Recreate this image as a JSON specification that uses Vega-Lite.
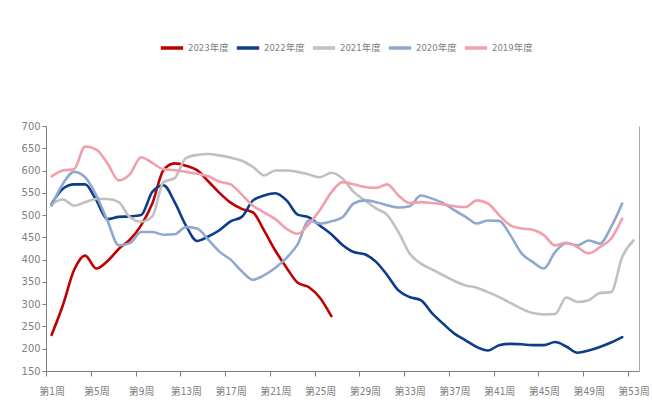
{
  "$schema": "https://vega.github.io/schema/vega-lite/v6.json",
  "width": 593,
  "height": 245,
  "autosize": {"type": "none"},
  "padding": {"left": 46, "top": 126, "right": 13, "bottom": 49},
  "background": "white",
  "config": {
    "view": {"stroke": null},
    "font": "DejaVu Sans Condensed, Liberation Sans Narrow, Noto Sans CJK SC",
    "axis": {"labelFont": "DejaVu Sans Condensed, Liberation Sans Narrow, Noto Sans CJK SC"},
    "legend": {"labelFont": "DejaVu Sans Condensed, Liberation Sans Narrow, Noto Sans CJK SC"}
  },
  "datasets": {
    "weekly": [
      {"year": "2023年度", "week": 1, "v": 231}, {"year": "2023年度", "week": 2, "v": 297}, {"year": "2023年度", "week": 3, "v": 376},
      {"year": "2023年度", "week": 4, "v": 409}, {"year": "2023年度", "week": 5, "v": 380}, {"year": "2023年度", "week": 6, "v": 397},
      {"year": "2023年度", "week": 7, "v": 424}, {"year": "2023年度", "week": 8, "v": 445}, {"year": "2023年度", "week": 9, "v": 477},
      {"year": "2023年度", "week": 10, "v": 526}, {"year": "2023年度", "week": 11, "v": 601}, {"year": "2023年度", "week": 12, "v": 616},
      {"year": "2023年度", "week": 13, "v": 611}, {"year": "2023年度", "week": 14, "v": 601}, {"year": "2023年度", "week": 15, "v": 576},
      {"year": "2023年度", "week": 16, "v": 550}, {"year": "2023年度", "week": 17, "v": 528}, {"year": "2023年度", "week": 18, "v": 514},
      {"year": "2023年度", "week": 19, "v": 506}, {"year": "2023年度", "week": 20, "v": 465}, {"year": "2023年度", "week": 21, "v": 420},
      {"year": "2023年度", "week": 22, "v": 382}, {"year": "2023年度", "week": 23, "v": 348}, {"year": "2023年度", "week": 24, "v": 338},
      {"year": "2023年度", "week": 25, "v": 314}, {"year": "2023年度", "week": 26, "v": 273},

      {"year": "2022年度", "week": 1, "v": 525}, {"year": "2022年度", "week": 2, "v": 559}, {"year": "2022年度", "week": 3, "v": 569},
      {"year": "2022年度", "week": 4, "v": 569}, {"year": "2022年度", "week": 5, "v": 533}, {"year": "2022年度", "week": 6, "v": 491},
      {"year": "2022年度", "week": 7, "v": 496}, {"year": "2022年度", "week": 8, "v": 497}, {"year": "2022年度", "week": 9, "v": 500},
      {"year": "2022年度", "week": 10, "v": 552}, {"year": "2022年度", "week": 11, "v": 567}, {"year": "2022年度", "week": 12, "v": 529},
      {"year": "2022年度", "week": 13, "v": 477}, {"year": "2022年度", "week": 14, "v": 442}, {"year": "2022年度", "week": 15, "v": 452},
      {"year": "2022年度", "week": 16, "v": 466}, {"year": "2022年度", "week": 17, "v": 486}, {"year": "2022年度", "week": 18, "v": 496},
      {"year": "2022年度", "week": 19, "v": 533}, {"year": "2022年度", "week": 20, "v": 544}, {"year": "2022年度", "week": 21, "v": 549},
      {"year": "2022年度", "week": 22, "v": 533}, {"year": "2022年度", "week": 23, "v": 501}, {"year": "2022年度", "week": 24, "v": 495},
      {"year": "2022年度", "week": 25, "v": 476}, {"year": "2022年度", "week": 26, "v": 457}, {"year": "2022年度", "week": 27, "v": 433},
      {"year": "2022年度", "week": 28, "v": 417}, {"year": "2022年度", "week": 29, "v": 412}, {"year": "2022年度", "week": 30, "v": 395},
      {"year": "2022年度", "week": 31, "v": 365}, {"year": "2022年度", "week": 32, "v": 331}, {"year": "2022年度", "week": 33, "v": 316},
      {"year": "2022年度", "week": 34, "v": 309}, {"year": "2022年度", "week": 35, "v": 280}, {"year": "2022年度", "week": 36, "v": 256},
      {"year": "2022年度", "week": 37, "v": 234}, {"year": "2022年度", "week": 38, "v": 219}, {"year": "2022年度", "week": 39, "v": 204},
      {"year": "2022年度", "week": 40, "v": 196}, {"year": "2022年度", "week": 41, "v": 208}, {"year": "2022年度", "week": 42, "v": 211},
      {"year": "2022年度", "week": 43, "v": 210}, {"year": "2022年度", "week": 44, "v": 208}, {"year": "2022年度", "week": 45, "v": 208},
      {"year": "2022年度", "week": 46, "v": 215}, {"year": "2022年度", "week": 47, "v": 205}, {"year": "2022年度", "week": 48, "v": 191},
      {"year": "2022年度", "week": 49, "v": 196}, {"year": "2022年度", "week": 50, "v": 204}, {"year": "2022年度", "week": 51, "v": 214},
      {"year": "2022年度", "week": 52, "v": 226},

      {"year": "2021年度", "week": 1, "v": 525}, {"year": "2021年度", "week": 2, "v": 535}, {"year": "2021年度", "week": 3, "v": 521},
      {"year": "2021年度", "week": 4, "v": 529}, {"year": "2021年度", "week": 5, "v": 536}, {"year": "2021年度", "week": 6, "v": 536},
      {"year": "2021年度", "week": 7, "v": 529}, {"year": "2021年度", "week": 8, "v": 495}, {"year": "2021年度", "week": 9, "v": 485},
      {"year": "2021年度", "week": 10, "v": 497}, {"year": "2021年度", "week": 11, "v": 574}, {"year": "2021年度", "week": 12, "v": 583},
      {"year": "2021年度", "week": 13, "v": 628}, {"year": "2021年度", "week": 14, "v": 635}, {"year": "2021年度", "week": 15, "v": 637},
      {"year": "2021年度", "week": 16, "v": 634}, {"year": "2021年度", "week": 17, "v": 629}, {"year": "2021年度", "week": 18, "v": 622},
      {"year": "2021年度", "week": 19, "v": 608}, {"year": "2021年度", "week": 20, "v": 589}, {"year": "2021年度", "week": 21, "v": 600},
      {"year": "2021年度", "week": 22, "v": 600}, {"year": "2021年度", "week": 23, "v": 597}, {"year": "2021年度", "week": 24, "v": 591},
      {"year": "2021年度", "week": 25, "v": 585}, {"year": "2021年度", "week": 26, "v": 595}, {"year": "2021年度", "week": 27, "v": 582},
      {"year": "2021年度", "week": 28, "v": 552}, {"year": "2021年度", "week": 29, "v": 533}, {"year": "2021年度", "week": 30, "v": 515},
      {"year": "2021年度", "week": 31, "v": 500}, {"year": "2021年度", "week": 32, "v": 462}, {"year": "2021年度", "week": 33, "v": 414},
      {"year": "2021年度", "week": 34, "v": 391}, {"year": "2021年度", "week": 35, "v": 378}, {"year": "2021年度", "week": 36, "v": 365},
      {"year": "2021年度", "week": 37, "v": 352}, {"year": "2021年度", "week": 38, "v": 342}, {"year": "2021年度", "week": 39, "v": 337},
      {"year": "2021年度", "week": 40, "v": 327}, {"year": "2021年度", "week": 41, "v": 316}, {"year": "2021年度", "week": 42, "v": 303},
      {"year": "2021年度", "week": 43, "v": 290}, {"year": "2021年度", "week": 44, "v": 280}, {"year": "2021年度", "week": 45, "v": 277},
      {"year": "2021年度", "week": 46, "v": 278}, {"year": "2021年度", "week": 47, "v": 315}, {"year": "2021年度", "week": 48, "v": 305},
      {"year": "2021年度", "week": 49, "v": 309}, {"year": "2021年度", "week": 50, "v": 325}, {"year": "2021年度", "week": 51, "v": 327},
      {"year": "2021年度", "week": 52, "v": 406}, {"year": "2021年度", "week": 53, "v": 443},

      {"year": "2020年度", "week": 1, "v": 521}, {"year": "2020年度", "week": 2, "v": 570}, {"year": "2020年度", "week": 3, "v": 597},
      {"year": "2020年度", "week": 4, "v": 585}, {"year": "2020年度", "week": 5, "v": 544}, {"year": "2020年度", "week": 6, "v": 487},
      {"year": "2020年度", "week": 7, "v": 432}, {"year": "2020年度", "week": 8, "v": 437}, {"year": "2020年度", "week": 9, "v": 462},
      {"year": "2020年度", "week": 10, "v": 462}, {"year": "2020年度", "week": 11, "v": 456}, {"year": "2020年度", "week": 12, "v": 457},
      {"year": "2020年度", "week": 13, "v": 473}, {"year": "2020年度", "week": 14, "v": 470}, {"year": "2020年度", "week": 15, "v": 445},
      {"year": "2020年度", "week": 16, "v": 418}, {"year": "2020年度", "week": 17, "v": 400}, {"year": "2020年度", "week": 18, "v": 374},
      {"year": "2020年度", "week": 19, "v": 355}, {"year": "2020年度", "week": 20, "v": 365}, {"year": "2020年度", "week": 21, "v": 382},
      {"year": "2020年度", "week": 22, "v": 404}, {"year": "2020年度", "week": 23, "v": 435}, {"year": "2020年度", "week": 24, "v": 488},
      {"year": "2020年度", "week": 25, "v": 481}, {"year": "2020年度", "week": 26, "v": 486}, {"year": "2020年度", "week": 27, "v": 495},
      {"year": "2020年度", "week": 28, "v": 526}, {"year": "2020年度", "week": 29, "v": 533}, {"year": "2020年度", "week": 30, "v": 529},
      {"year": "2020年度", "week": 31, "v": 522}, {"year": "2020年度", "week": 32, "v": 517}, {"year": "2020年度", "week": 33, "v": 520},
      {"year": "2020年度", "week": 34, "v": 544}, {"year": "2020年度", "week": 35, "v": 537}, {"year": "2020年度", "week": 36, "v": 527},
      {"year": "2020年度", "week": 37, "v": 511}, {"year": "2020年度", "week": 38, "v": 496}, {"year": "2020年度", "week": 39, "v": 481},
      {"year": "2020年度", "week": 40, "v": 488}, {"year": "2020年度", "week": 41, "v": 487}, {"year": "2020年度", "week": 42, "v": 455},
      {"year": "2020年度", "week": 43, "v": 414}, {"year": "2020年度", "week": 44, "v": 395}, {"year": "2020年度", "week": 45, "v": 380},
      {"year": "2020年度", "week": 46, "v": 417}, {"year": "2020年度", "week": 47, "v": 437}, {"year": "2020年度", "week": 48, "v": 432},
      {"year": "2020年度", "week": 49, "v": 443}, {"year": "2020年度", "week": 50, "v": 436}, {"year": "2020年度", "week": 51, "v": 473},
      {"year": "2020年度", "week": 52, "v": 526},

      {"year": "2019年度", "week": 1, "v": 587}, {"year": "2019年度", "week": 2, "v": 600}, {"year": "2019年度", "week": 3, "v": 603},
      {"year": "2019年度", "week": 4, "v": 654}, {"year": "2019年度", "week": 5, "v": 647}, {"year": "2019年度", "week": 6, "v": 616},
      {"year": "2019年度", "week": 7, "v": 578}, {"year": "2019年度", "week": 8, "v": 592}, {"year": "2019年度", "week": 9, "v": 630},
      {"year": "2019年度", "week": 10, "v": 617}, {"year": "2019年度", "week": 11, "v": 603}, {"year": "2019年度", "week": 12, "v": 601},
      {"year": "2019年度", "week": 13, "v": 597}, {"year": "2019年度", "week": 14, "v": 593}, {"year": "2019年度", "week": 15, "v": 587},
      {"year": "2019年度", "week": 16, "v": 575}, {"year": "2019年度", "week": 17, "v": 569}, {"year": "2019年度", "week": 18, "v": 546},
      {"year": "2019年度", "week": 19, "v": 521}, {"year": "2019年度", "week": 20, "v": 506}, {"year": "2019年度", "week": 21, "v": 491},
      {"year": "2019年度", "week": 22, "v": 469}, {"year": "2019年度", "week": 23, "v": 458}, {"year": "2019年度", "week": 24, "v": 480},
      {"year": "2019年度", "week": 25, "v": 512}, {"year": "2019年度", "week": 26, "v": 551}, {"year": "2019年度", "week": 27, "v": 574},
      {"year": "2019年度", "week": 28, "v": 569}, {"year": "2019年度", "week": 29, "v": 563}, {"year": "2019年度", "week": 30, "v": 561},
      {"year": "2019年度", "week": 31, "v": 569}, {"year": "2019年度", "week": 32, "v": 544}, {"year": "2019年度", "week": 33, "v": 527},
      {"year": "2019年度", "week": 34, "v": 529}, {"year": "2019年度", "week": 35, "v": 527}, {"year": "2019年度", "week": 36, "v": 524},
      {"year": "2019年度", "week": 37, "v": 520}, {"year": "2019年度", "week": 38, "v": 518}, {"year": "2019年度", "week": 39, "v": 533},
      {"year": "2019年度", "week": 40, "v": 526}, {"year": "2019年度", "week": 41, "v": 500}, {"year": "2019年度", "week": 42, "v": 477},
      {"year": "2019年度", "week": 43, "v": 470}, {"year": "2019年度", "week": 44, "v": 467}, {"year": "2019年度", "week": 45, "v": 455},
      {"year": "2019年度", "week": 46, "v": 432}, {"year": "2019年度", "week": 47, "v": 438}, {"year": "2019年度", "week": 48, "v": 428},
      {"year": "2019年度", "week": 49, "v": 414}, {"year": "2019年度", "week": 50, "v": 428}, {"year": "2019年度", "week": 51, "v": 447},
      {"year": "2019年度", "week": 52, "v": 492}
    ]
  },
  "layer": [
    {
      "data": {"name": "weekly"},
      "mark": {"type": "line", "interpolate": "monotone", "strokeWidth": 2.6, "strokeCap": "round"},
      "encoding": {
        "x": {
          "field": "week",
          "type": "quantitative",
          "scale": {"domain": [0.5, 53.5], "nice": false, "zero": false},
          "axis": {
            "title": null,
            "grid": false,
            "values": [1, 5, 9, 13, 17, 21, 25, 29, 33, 37, 41, 45, 49, 53],
            "labelExpr": "'第' + datum.value + '周'",
            "tickOffset": -5.59,
            "labelOffset": 5.59,
            "tickSize": 5,
            "tickColor": "#808080",
            "domainColor": "#808080",
            "labelColor": "#808080",
            "labelFontSize": 10,
            "labelPadding": 10,
            "labelFlush": false,
            "labelOverlap": false
          }
        },
        "y": {
          "field": "v",
          "type": "quantitative",
          "scale": {"domain": [150, 700], "nice": false, "zero": false},
          "axis": {
            "title": null,
            "grid": false,
            "values": [150, 200, 250, 300, 350, 400, 450, 500, 550, 600, 650, 700],
            "tickSize": 4,
            "tickColor": "#808080",
            "domainColor": "#808080",
            "labelColor": "#808080",
            "labelFontSize": 11,
            "labelPadding": 2,
            "labelFlush": false,
            "labelOverlap": false
          }
        },
        "color": {
          "field": "year",
          "type": "nominal",
          "sort": ["2023年度", "2022年度", "2021年度", "2020年度", "2019年度"],
          "scale": {
            "domain": ["2023年度", "2022年度", "2021年度", "2020年度", "2019年度"],
            "range": ["#C00000", "#0C3C8C", "#C0C0C0", "#8FA8D0", "#F29FAC"]
          },
          "legend": {
            "title": null,
            "orient": "none",
            "direction": "horizontal",
            "legendX": 113,
            "legendY": -91,
            "symbolType": "stroke",
            "symbolSize": 500,
            "symbolStrokeWidth": 3.5,
            "labelFontSize": 9.5,
            "labelColor": "#808080",
            "labelOffset": 3,
            "columnPadding": 0
          }
        }
      }
    },
    {
      "data": {"values": []},
      "mark": {"type": "rule"},
      "encoding": {
        "x": {"field": "week", "type": "quantitative", "axis": null},
        "y": {
          "field": "v",
          "type": "quantitative",
          "axis": {
            "orient": "right",
            "title": null,
            "labels": false,
            "ticks": false,
            "grid": false,
            "domainColor": "#A6A6A6"
          }
        }
      }
    }
  ],
  "resolve": {"axis": {"x": "independent", "y": "independent"}}
}
